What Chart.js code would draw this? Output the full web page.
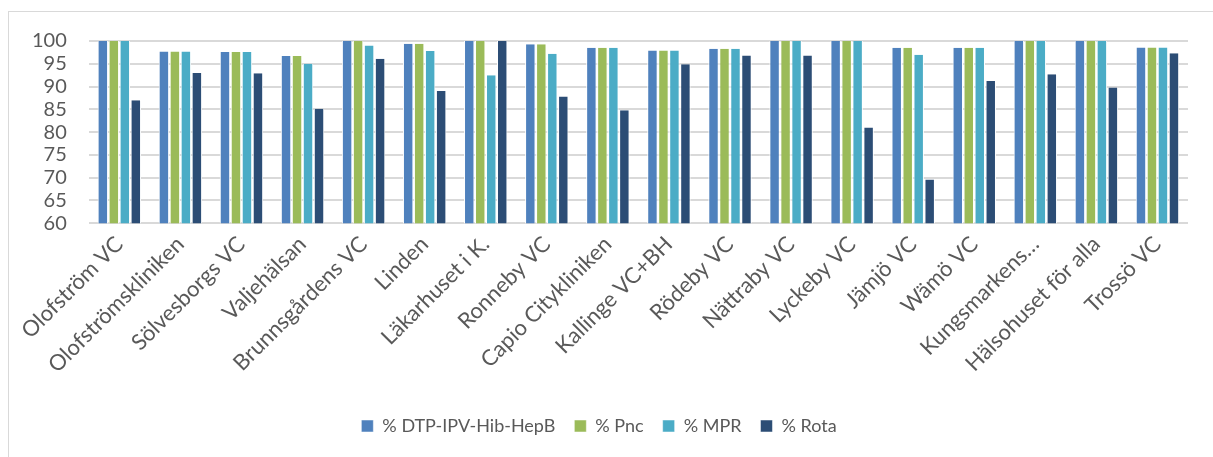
<!DOCTYPE html>
<html>
<head>
<meta charset="utf-8">
<script src="https://cdn.jsdelivr.net/npm/chart.js@4"></script>
<style>
  html, body { margin: 0; padding: 0; background: #ffffff; }
  #wrap { width: 1213px; height: 457px; position: relative; }
  #frame {
    position: absolute; left: 8px; top: 11px; right: 0; bottom: 0;
    border-left: 1px solid #d9d9d9; border-top: 1px solid #d9d9d9;
    pointer-events: none;
  }
</style>
</head>
<body>
<div id="wrap"><canvas id="chart"></canvas><div id="frame"></div></div>
<script>
// Vårdcentraler
const categories = [
  'Olofström VC', 'Olofströmskliniken', 'Sölvesborgs VC', 'Valjehälsan',
  'Brunnsgårdens VC', 'Linden', 'Läkarhuset i K.', 'Ronneby VC',
  'Capio Citykliniken', 'Kallinge VC+BH', 'Rödeby VC', 'Nättraby VC',
  'Lyckeby VC', 'Jämjö VC', 'Wämö VC', 'Kungsmarkens…',
  'Hälsohuset för alla', 'Trossö VC'
];

// Andel vaccinerade (%)
const dtpValues = [100, 97.7, 97.6, 96.7, 100, 99.4, 100, 99.3, 98.5, 97.9, 98.3, 100, 100, 98.5, 98.5, 100, 100, 98.6];
const pncValues = [100, 97.7, 97.6, 96.7, 100, 99.4, 100, 99.3, 98.5, 97.9, 98.3, 100, 100, 98.5, 98.5, 100, 100, 98.6];
const mprValues = [100, 97.7, 97.6, 95.0, 99.0, 97.8, 92.5, 97.2, 98.5, 97.9, 98.3, 100, 100, 97.0, 98.5, 100, 100, 98.6];
const rotaValues = [87.0, 93.0, 92.9, 85.1, 96.1, 89.0, 100, 87.8, 84.8, 94.9, 96.8, 96.8, 81.0, 69.6, 91.2, 92.7, 89.8, 97.3];

const seriesLabels = ['% DTP-IPV-Hib-HepB', '% Pnc', '% MPR', '% Rota'];
const yMin = 60;
const yMax = 100;
const yStep = 5;

const textColor = '#595959';
const fontFamily = 'Lato, "Open Sans", sans-serif';

const colors = ['#4F81BD', '#9BBB59', '#4BACC6', '#2C4D75'];
const allValues = [dtpValues, pncValues, mprValues, rotaValues];

const canvasElement = document.getElementById('chart');

const chart = new Chart(canvasElement, {
  type: 'bar',
  data: {
    labels: categories,
    datasets: allValues.map((values, i) => ({
      label: seriesLabels[i],
      data: values,
      backgroundColor: colors[i],
      borderColor: '#ffffff',
      borderWidth: { left: 1, right: 1, top: 0, bottom: 0 },
      categoryPercentage: 0.72,
      barPercentage: 0.95,
    })),
  },
  options: {
    responsive: true,
    maintainAspectRatio: false,
    animation: false,
    layout: {
      padding: { left: 10, right: 25, top: 41, bottom: 12 },
    },
    plugins: {
      tooltip: { enabled: false },
      legend: {
        position: 'bottom',
        labels: {
          color: textColor,
          boxWidth: 12,
          boxHeight: 12,
          padding: 19,
          font: { family: fontFamily, size: 18 },
        },
      },
    },
    scales: {
      x: {
        grid: { display: false },
        border: { display: false },
        // luft mellan etiketterna och förklaringen
        afterFit: (scale) => {
          scale.height += 20;
        },
        ticks: {
          color: textColor,
          maxRotation: 45,
          minRotation: 45,
          autoSkip: false,
          padding: 0,
          font: { family: fontFamily, size: 22 },
        },
      },
      y: {
        min: yMin,
        max: yMax,
        border: { display: false },
        grid: {
          color: '#d9d9d9',
          lineWidth: 2,
          drawTicks: false,
        },
        ticks: {
          stepSize: yStep,
          autoSkip: false,
          color: textColor,
          padding: 22,
          font: { family: fontFamily, size: 20 },
        },
      },
    },
  },
});
</script>
</body>
</html>
